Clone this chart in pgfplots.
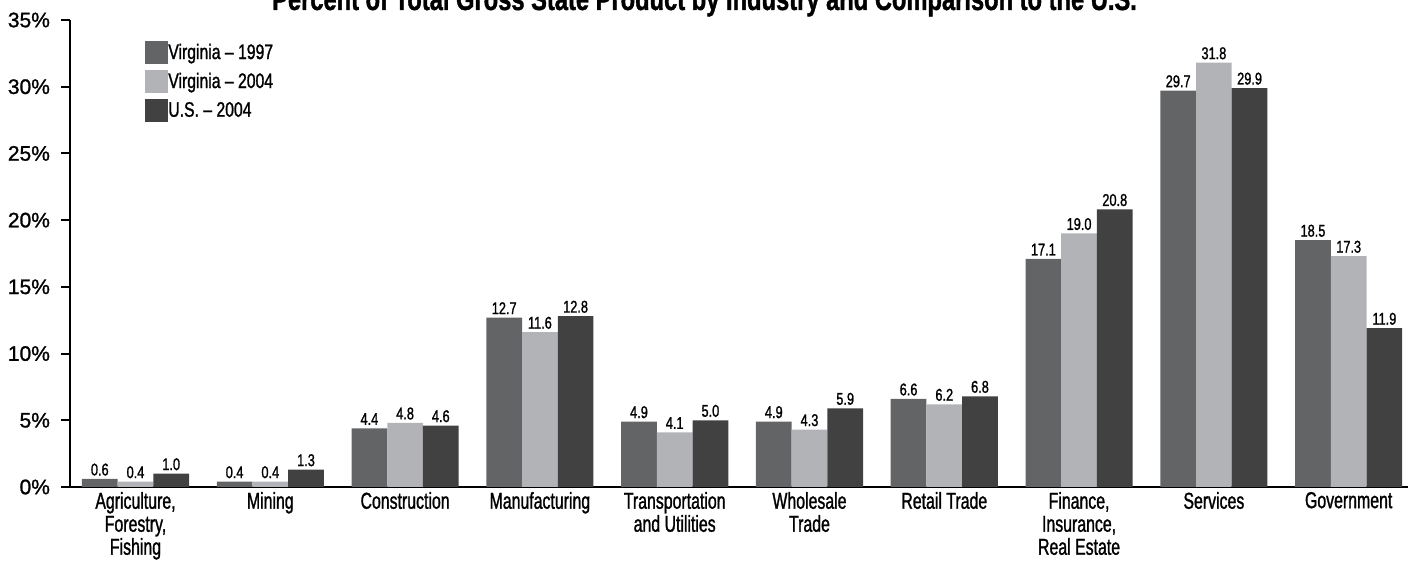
\documentclass[border=0pt]{standalone}
\usepackage{fontspec}
\setmainfont{Liberation Sans}[FakeStretch=0.75, FakeBold=1.2]
\newfontfamily\catfont{Liberation Sans}[FakeStretch=0.69, FakeBold=1.2]
\newfontfamily\tickfont{Liberation Sans}[FakeBold=1.2]
\usepackage{pgfplots}
\pgfplotsset{compat=1.18}
\usepackage{pgfplotstable}

\definecolor{vaA}{HTML}{636466}
\definecolor{vaB}{HTML}{B1B3B6}
\definecolor{usC}{HTML}{414142}

% square swatch for the legend
\pgfplotsset{sqleg/.style={legend image code/.code={%
  \fill[##1] (0pt,-5.75pt) rectangle (11.5pt,5.75pt);}}}

% Share of total gross state product by industry (percent)
\pgfplotstableread{
x va1997 va2004 us2004
0 0.6 0.4 1.0
1 0.4 0.4 1.3
2 4.4 4.8 4.6
3 12.7 11.6 12.8
4 4.9 4.1 5.0
5 4.9 4.3 5.9
6 6.6 6.2 6.8
7 17.1 19.0 20.8
8 29.7 31.8 29.9
9 18.5 17.3 11.9
}\gsp

\begin{document}
\begin{tikzpicture}
\begin{axis}[
  at={(0,0)}, anchor=south west,
  scale only axis, width=669pt, height=233.5pt,
  ybar=0pt, bar width=17.85pt,
  xmin=-0.486, xmax=9.44, ymin=0, ymax=35,
  axis x line=bottom, axis y line=left,
  axis line style={line width=1pt, -},
  xtick=data,
  xticklabels={{Agriculture,\\Forestry,\\Fishing},Mining,Construction,Manufacturing,
    {Transportation\\and Utilities},{Wholesale\\Trade},Retail Trade,
    {Finance,\\Insurance,\\Real Estate},Services,Government},
  xtick style={draw=none},
  xticklabel style={align=center, font=\catfont\fontsize{11.5}{11.5}\selectfont,
    yshift=5.5pt},
  ytick={0,5,...,35},
  yticklabel={\pgfmathprintnumber{\tick}\%},
  yticklabel style={font=\tickfont\fontsize{10.5}{10.5}\selectfont, xshift=-2pt},
  ytick style={line width=1pt, black},
  tick align=outside, major tick length=4.5pt,
  /pgf/number format/assume math mode=true,
  nodes near coords,
  every node near coord/.append style={font=\fontsize{8.5}{8.5}\selectfont,
    /pgf/number format/fixed, /pgf/number format/fixed zerofill,
    /pgf/number format/precision=1, inner sep=1.5pt, black},
  legend style={at={(0.056,0.955)}, anchor=north west, draw=none, fill=none,
    inner sep=0pt, row sep=3pt, font=\fontsize{10.5}{10.5}\selectfont,
    nodes={inner sep=0pt},
    /tikz/every even column/.append style={column sep=4pt}},
  legend cell align=left,
]
\addplot[fill=vaA, draw=none, sqleg] table[x=x, y=va1997] {\gsp};
\addplot[fill=vaB, draw=none, sqleg] table[x=x, y=va2004] {\gsp};
\addplot[fill=usC, draw=none, sqleg] table[x=x, y=us2004] {\gsp};
\legend{Virginia -- 1997, Virginia -- 2004, U.S. -- 2004}
\end{axis}
\node[anchor=base, font=\bfseries\fontsize{15.8}{15.8}\selectfont]
  at (317.25pt,238.5pt) {Percent of Total Gross State Product by Industry and Comparison to the U.S.};
\pgfresetboundingbox
\useasboundingbox (-35pt,-37pt) rectangle (669pt,243.5pt);
\end{tikzpicture}
\end{document}
